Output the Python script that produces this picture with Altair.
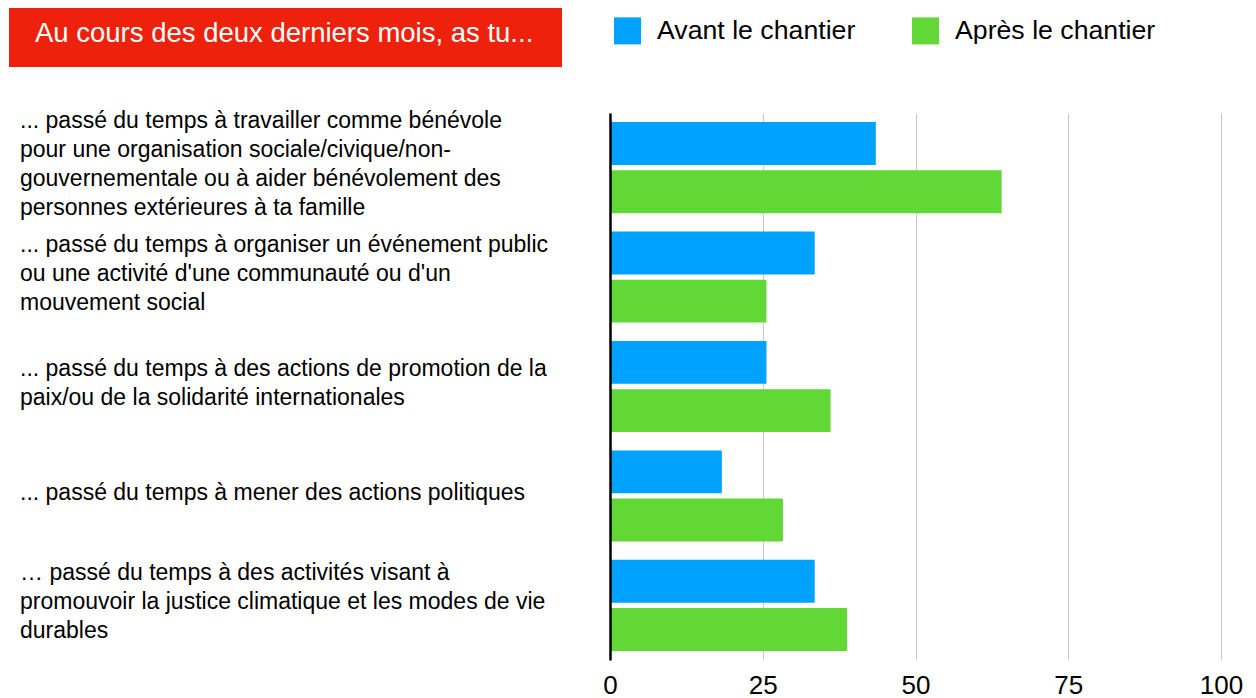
import altair as alt
import pandas as pd

FONT = "Liberation Sans"

title_text = ["Au cours des deux derniers mois, as tu..."]

# category labels, one list of lines per category
label_lines = [
    ["... passé du temps à travailler comme bénévole",
     "pour une organisation sociale/civique/non-",
     "gouvernementale ou à aider bénévolement des",
     "personnes extérieures à ta famille"],
    ["... passé du temps à organiser un événement public",
     "ou une activité d'une communauté ou d'un",
     "mouvement social"],
    ["... passé du temps à des actions de promotion de la",
     "paix/ou de la solidarité internationales"],
    ["... passé du temps à mener des actions politiques"],
    ["\u2026 passé du temps à des activités visant à",
     "promouvoir la justice climatique et les modes de vie",
     "durables"],
]

series = ["Avant le chantier", "Après le chantier"]
avant = [43.5, 33.5, 25.6, 18.3, 33.5]
apres = [64.1, 25.6, 36.1, 28.3, 38.8]
colors = ["#00A2FF", "#61D836"]
x_ticks = [0, 25, 50, 75, 100]

LINE_H = 29
categories = [" ".join(l) for l in label_lines]

rows = []
for c, a, p in zip(categories, avant, apres):
    rows.append({"category": c, "series": series[0], "value": a})
    rows.append({"category": c, "series": series[1], "value": p})
df = pd.DataFrame(rows)

line_rows = []
for c, lines in zip(categories, label_lines):
    n = len(lines)
    for i, t in enumerate(lines):
        line_rows.append({"category": c, "line": t, "k": 2 * i - (n - 1)})
lines_df = pd.DataFrame(line_rows)
title_df = pd.DataFrame({"t": title_text})

y_enc = alt.Y(
    "category:N",
    sort=categories,
    scale=alt.Scale(paddingInner=0.168, paddingOuter=0.083),
    axis=alt.Axis(labels=False, ticks=False, title=None, grid=False,
                  domainColor="#000000", domainWidth=2.5, zindex=1),
)

bars = alt.Chart(df).mark_bar().encode(
    x=alt.X(
        "value:Q",
        scale=alt.Scale(domain=[0, 100], nice=False),
        axis=alt.Axis(values=x_ticks, grid=True, gridColor="#c8c8c8", gridWidth=1,
                      domain=False, ticks=False, tickSize=0, labelFontSize=26,
                      labelFont=FONT, labelColor="#000000", labelPadding=12,
                      labelFlush=False, title=None),
    ),
    y=y_enc,
    yOffset=alt.YOffset("series:N", sort=series, scale=alt.Scale(paddingInner=0.11)),
    color=alt.Color(
        "series:N",
        sort=series,
        scale=alt.Scale(domain=series, range=colors),
        legend=alt.Legend(
            orient="none", legendX=4, legendY=-96, direction="horizontal",
            symbolType="square", symbolSize=729, symbolStrokeWidth=0,
            labelFontSize=26.7, labelFont=FONT, labelColor="#000000",
            labelOffset=16, columnPadding=56, labelLimit=400, padding=0,
            title=None,
        ),
    ),
)

label_layers = []
for k in sorted(lines_df["k"].unique()):
    label_layers.append(
        alt.Chart(lines_df).transform_filter(alt.datum.k == int(k)).mark_text(
            align="left", baseline="middle", fontSize=23, font=FONT,
            color="#000000", dy=int(k) * LINE_H / 2 - 3,
        ).encode(
            y=alt.Y("category:N", sort=categories),
            x=alt.value(-590),
            text="line:N",
        )
    )

title_box = alt.Chart(title_df).mark_rect(color="#EE220C").encode(
    x=alt.value(-601), x2=alt.value(-48), y=alt.value(-107), y2=alt.value(-46),
)

title_txt = alt.Chart(title_df).mark_text(
    align="left", baseline="alphabetic", fontSize=27.5, font=FONT, color="#FFFFFF",
).encode(
    x=alt.value(-575), y=alt.value(-71), text="t:N",
)

chart = alt.layer(bars, *label_layers, title_box, title_txt).properties(
    width=611,
    height=547,
    padding={"left": 602, "top": 105, "right": 27, "bottom": 38},
    autosize=alt.AutoSizeParams(type="none"),
).configure_view(stroke=None)

chart.save("out.html", embed_options={"renderer": "svg", "actions": False})
